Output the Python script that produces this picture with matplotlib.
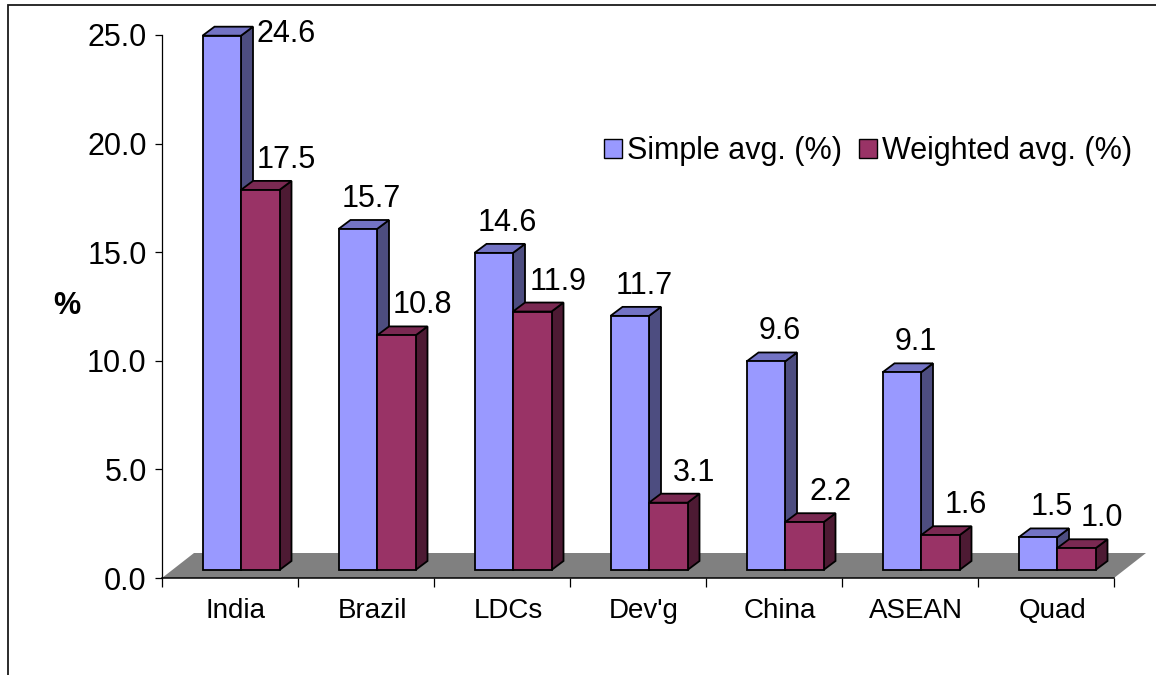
import matplotlib
matplotlib.use("Agg")
import matplotlib.pyplot as plt
from matplotlib.patches import Polygon, Rectangle, Patch
from matplotlib.transforms import offset_copy

# ---- data -------------------------------------------------------------
categories = ["India", "Brazil", "LDCs", "Dev'g", "China", "ASEAN", "Quad"]
simple_avg = [24.6, 15.7, 14.6, 11.7, 9.6, 9.1, 1.5]
weighted_avg = [17.5, 10.8, 11.9, 3.1, 2.2, 1.6, 1.0]
series_names = ["Simple avg. (%)", "Weighted avg. (%)"]
y_ticks = [0, 5, 10, 15, 20, 25]

# ---- styling ----------------------------------------------------------
plt.rcParams["font.family"] = ["Liberation Sans", "DejaVu Sans"]
W, H, DPI = 1156, 675, 100

face_colors = {
    "simple": ("#9999FF", "#7373C4", "#4D4D80"),    # front, top, side
    "weighted": ("#993366", "#7A2952", "#4D1A33"),
}
floor_color = "#808080"
edge_lw = 1.3

fig = plt.figure(figsize=(W / DPI, H / DPI), dpi=DPI)
fig.patch.set_facecolor("white")

ax = fig.add_axes([162 / W, 97 / H, 952 / W, 543 / H])
ax.set_xlim(0, len(categories))
ax.set_ylim(0, 25)
ax.patch.set_visible(False)

# pixel -> data conversion for the pseudo-3D depth offsets
p0 = ax.transData.transform((0, 0))
p1 = ax.transData.transform((1, 1))
ppx, ppy = p1[0] - p0[0], p1[1] - p0[1]

floor_dx, floor_dy = 32 / ppx, 25 / ppy      # depth of the floor
shift_dx, shift_dy = 11 / ppx, 8 / ppy       # bars sit inside the floor depth
depth_dx, depth_dy = 12 / ppx, 9 / ppy       # depth of each bar
bar_w = 38.5 / ppx

n = len(categories)

# floor
ax.add_patch(Polygon([(0, 0), (n, 0), (n + floor_dx, floor_dy), (floor_dx, floor_dy)],
                     closed=True, facecolor=floor_color, edgecolor="none",
                     zorder=1, clip_on=False))


def draw_bar(x0, value, colors, z):
    front, top, side = colors
    bx, by = x0 + shift_dx, shift_dy
    ty = by + value
    ax.add_patch(Polygon([(bx + bar_w, by), (bx + bar_w + depth_dx, by + depth_dy),
                          (bx + bar_w + depth_dx, ty + depth_dy), (bx + bar_w, ty)],
                         closed=True, facecolor=side, edgecolor="black",
                         lw=edge_lw, zorder=z, clip_on=False, joinstyle="miter"))
    ax.add_patch(Polygon([(bx, ty), (bx + bar_w, ty), (bx + bar_w + depth_dx, ty + depth_dy),
                          (bx + depth_dx, ty + depth_dy)],
                         closed=True, facecolor=top, edgecolor="black",
                         lw=edge_lw, zorder=z, clip_on=False, joinstyle="miter"))
    ax.add_patch(Rectangle((bx, by), bar_w, value, facecolor=front, edgecolor="black",
                           lw=edge_lw, zorder=z + 0.1, clip_on=False, joinstyle="miter"))
    return bx, ty


def value_label(bx, ty, value, dx_px):
    top_px = ax.transData.transform((bx, ty))[1]
    if top_px + 44 > ax.bbox.y1:
        # no room above the plot: put the label beside the bar top
        tr = offset_copy(ax.transData, fig, x=4, y=-6, units="dots")
        ax.text(bx + bar_w + depth_dx, ty, f"{value:.1f}", transform=tr,
                ha="left", va="baseline", fontsize=22, zorder=10)
    else:
        tr = offset_copy(ax.transData, fig, x=dx_px, y=22, units="dots")
        ax.text(bx + bar_w / 2, ty, f"{value:.1f}", transform=tr,
                ha="center", va="baseline", fontsize=22, zorder=10)


z = 3
for i, (s, w) in enumerate(zip(simple_avg, weighted_avg)):
    c = i + 0.5
    bx, ty = draw_bar(c - bar_w, s, face_colors["simple"], z)
    value_label(bx, ty, s, 14)
    bx, ty = draw_bar(c, w, face_colors["weighted"], z + 1)
    value_label(bx, ty, w, 26)
    z += 2

# category labels
for i, cat in enumerate(categories):
    tr = offset_copy(ax.transData, fig, x=6, y=-40, units="dots")
    ax.text(i + 0.5, 0, cat, transform=tr, ha="center", va="baseline", fontsize=20)

# axes
for side in ("top", "right"):
    ax.spines[side].set_visible(False)
ax.spines["left"].set_linewidth(0.9)
ax.spines["bottom"].set_linewidth(1.1)
ax.spines["bottom"].set_zorder(2)
ax.set_yticks(y_ticks)
ax.set_yticklabels([f"{t:.1f}" for t in y_ticks])
ax.set_xticks(range(n + 1))
ax.set_xticklabels([])
ax.tick_params(axis="y", direction="out", length=5, width=0.9, pad=6, labelsize=22)
ax.tick_params(axis="x", direction="out", length=6.5, width=0.9)

fig.text(67 / W, 1 - 306 / H, "%", ha="center", va="center", fontsize=22,
         fontweight="bold")

handles = [Patch(facecolor=face_colors["simple"][0], edgecolor="black", lw=1.0),
           Patch(facecolor=face_colors["weighted"][0], edgecolor="black", lw=1.0)]
fig.legend(handles, series_names, loc="upper left",
           bbox_to_anchor=(604 / W, 1 - 136 / H), bbox_transform=fig.transFigure,
           ncol=2, frameon=False, fontsize=22, handlelength=0.59, handleheight=0.59,
           handletextpad=0.16, columnspacing=0.56, borderpad=0, borderaxespad=0)

# outer chart frame
fig.add_artist(Rectangle((8 / W, -0.1), 1.2, 1.1 - 5 / H, transform=fig.transFigure,
                         fill=False, edgecolor="#1a1a1a", lw=1.3))

fig.savefig("out.png", dpi=DPI)
